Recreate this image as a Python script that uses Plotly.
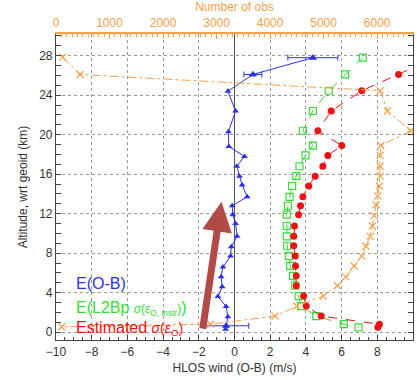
import plotly.graph_objects as go

# E(O-B) blue
blue_alt = [27.8, 26.1, 24.4, 22.4, 20.3, 18.8, 17.8, 16.8, 15.8, 14.9, 13.7, 12.8, 11.9, 11.0, 9.7,
            8.65, 7.7, 6.6, 5.6, 4.6, 3.6, 2.6, 1.55, 0.64, 0.3]
blue_val = [4.39, 1.03, -0.37, 0.06, -0.34, -0.32, 0.56, 0.13, 0.28, 0.43, 0.71, -0.13, -0.09, 0.06, 0.15,
            -0.18, -0.22, -0.65, -0.75, -0.69, -0.93, -0.47, -0.37, -0.47, -0.5]
blue_err = [1.4, 0.5, 0, 0, 0, 0, 0, 0, 0, 0, 0, 0, 0, 0, 0,
            0, 0, 0, 0, 0, 0, 0, 0, 1.27, 0]

# E(L2Bp sigma) green
green_alt = [27.8, 26.1, 24.45, 22.4, 20.4, 18.9, 17.9, 16.8, 15.8, 14.8, 13.7, 12.8, 11.9, 10.75, 9.7,
             8.75, 7.7, 6.7, 5.7, 4.7, 3.65, 2.64, 1.62, 0.8, 0.48]
green_val = [7.19, 6.2, 5.28, 4.39, 3.83, 4.39, 3.98, 3.64, 3.46, 3.23, 3.08, 2.99, 2.93, 2.93, 2.93,
             2.95, 3.04, 3.12, 3.27, 3.4, 3.59, 3.74, 4.58, 6.12, 6.95]

# Estimated sigma red
red_alt = [28.0, 26.1, 24.45, 22.4, 20.4, 18.9, 17.9, 16.8, 15.8, 14.8, 13.7, 12.8, 11.9, 10.75, 9.7,
           8.75, 7.7, 6.7, 5.7, 4.7, 3.65, 2.64, 1.62, 0.8, 0.48]
red_val = [11.5, 9.19, 7.13, 5.42, 4.67, 6.01, 5.23, 4.95, 4.52, 4.16, 3.83, 3.7, 3.59, 3.36, 3.32,
           3.32, 3.4, 3.42, 3.46, 3.46, 3.87, 4.02, 4.86, 8.12, 8.03]

# Number of obs (top axis)
obs_alt = [27.85, 26.1, 24.45, 22.4, 20.4, 18.9, 17.9, 16.8, 15.8, 14.8, 13.8, 12.9, 11.8, 10.75, 9.7,
           8.7, 7.7, 6.7, 5.6, 4.7, 3.65, 2.64, 1.62, 0.8, 0.54]
obs_val = [125, 449, 6056, 6193, 6630, 6069, 6056, 6056, 6056, 6043, 6013, 5981, 5944, 5912, 5869,
           5789, 5714, 5570, 5415, 5258, 4996, 4499, 4093, 2890, 106]

x_ticks = list(range(-10, 11, 2))
y_ticks = list(range(0, 29, 4))
obs_ticks = list(range(0, 7000, 1000))

BLUE = "#2f2fe8"
GREEN = "#33dd33"
RED = "#ee1111"
ORANGE = "#f5a04a"
FONT = "Liberation Sans, Arial, sans-serif"

fig = go.Figure()

fig.add_trace(go.Scatter(
    x=obs_val, y=obs_alt, xaxis="x2", yaxis="y", mode="lines+markers",
    line=dict(color=ORANGE, width=1, dash="dashdot"),
    marker=dict(symbol="x-thin-open", size=7, color=ORANGE, line=dict(color=ORANGE, width=1.2)),
    showlegend=False))

fig.add_trace(go.Scatter(
    x=green_val, y=green_alt, mode="lines+markers",
    line=dict(color=GREEN, width=1, dash="dash"),
    marker=dict(symbol="square-open", size=7, color=GREEN, line=dict(color=GREEN, width=1.2)),
    showlegend=False))

fig.add_trace(go.Scatter(
    x=red_val, y=red_alt, mode="lines+markers",
    line=dict(color=RED, width=1, dash="dash"),
    marker=dict(symbol="circle", size=7, color=RED),
    showlegend=False))

fig.add_trace(go.Scatter(
    x=blue_val, y=blue_alt, mode="lines+markers",
    line=dict(color=BLUE, width=1),
    marker=dict(symbol="triangle-up", size=6, color=BLUE),
    showlegend=False))

idx = [i for i, e in enumerate(blue_err) if e > 0]
fig.add_trace(go.Scatter(
    x=[blue_val[i] for i in idx], y=[blue_alt[i] for i in idx], mode="markers",
    marker=dict(symbol="triangle-up-open", size=6, color=BLUE),
    error_x=dict(type="data", array=[blue_err[i] for i in idx], color=BLUE, thickness=1, width=3),
    showlegend=False))

axis_font = dict(family=FONT, size=12, color="#333333")

fig.update_layout(
    width=417, height=380,
    margin=dict(l=56, r=4, t=34, b=40),
    paper_bgcolor="white", plot_bgcolor="white",
    font=dict(family=FONT),
    xaxis=dict(
        range=[-10, 10], tickvals=x_ticks, ticks="inside", ticklen=5, tickcolor="#444",
        minor=dict(dtick=0.5, ticks="inside", ticklen=3, tickcolor="#444", showgrid=False),
        showgrid=True, gridcolor="#999999", griddash="dot", gridwidth=1,
        zeroline=True, zerolinecolor="#555555", zerolinewidth=1.2,
        showline=True, linecolor="#444444", linewidth=1.2,
        tickfont=axis_font,
        title=dict(text="HLOS wind (O-B) (m/s)", font=axis_font, standoff=6),
    ),
    xaxis2=dict(
        overlaying="x", side="top", range=[0, 6670], tickvals=obs_ticks,
        ticks="inside", ticklen=5, tickcolor=ORANGE,
        minor=dict(dtick=100, ticks="inside", ticklen=3, tickcolor=ORANGE, showgrid=False),
        showgrid=False, zeroline=False,
        showline=True, linecolor=ORANGE, linewidth=1.5,
        tickfont=dict(family=FONT, size=12, color=ORANGE),
        title=dict(text="Number of obs", font=dict(family=FONT, size=12, color=ORANGE), standoff=2),
    ),
    yaxis=dict(
        range=[-0.8, 30.2], tickvals=y_ticks, ticks="inside", ticklen=5, tickcolor="#444",
        minor=dict(dtick=1, ticks="inside", ticklen=3, tickcolor="#444", showgrid=False),
        showgrid=True, gridcolor="#999999", griddash="dot", gridwidth=1,
        zeroline=False,
        showline=True, linecolor="#444444", linewidth=1.2, mirror="allticks",
        tickfont=axis_font,
        title=dict(text="Altitude, wrt geoid (km)", font=axis_font, standoff=8),
    ),
)

# legend-like coloured labels
fig.add_annotation(xref="paper", yref="paper", x=0.05, y=0.186, xanchor="left", yanchor="middle",
                   text="E(O-B)", showarrow=False, font=dict(family=FONT, size=16, color=BLUE))
fig.add_annotation(xref="paper", yref="paper", x=0.05, y=0.104, xanchor="left", yanchor="middle",
                   text="E(L2Bp <span style='font-size:12px'><i>σ</i>(<i>ε</i><sub>O, instr</sub>)</span>)",
                   showarrow=False, font=dict(family=FONT, size=16, color=GREEN))
fig.add_annotation(xref="paper", yref="paper", x=0.05, y=0.038, xanchor="left", yanchor="middle",
                   text="Estimated <span style='font-size:14px'><i>σ</i>(<i>ε</i><sub>O</sub>)</span>",
                   showarrow=False, font=dict(family=FONT, size=16, color=RED))

# red arrow
fig.add_annotation(x=-0.73, y=13.2, ax=-1.79, ay=0.2, xref="x", yref="y", axref="x", ayref="y",
                   text="", showarrow=True, arrowhead=2, arrowsize=0.85, arrowwidth=7,
                   arrowcolor="#b24a48")

fig.write_html("out.html")
